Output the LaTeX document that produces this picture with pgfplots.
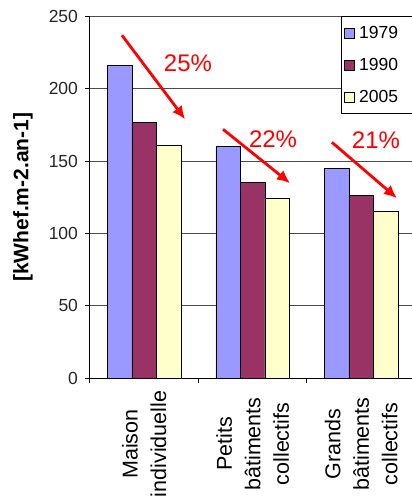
\documentclass[border=0pt]{standalone}
\usepackage{fontspec}
\setmainfont{Liberation Sans}
\usepackage{pgfplots}
\pgfplotsset{compat=1.18}
\usetikzlibrary{arrows.meta}
\definecolor{cA}{HTML}{9999FF}
\definecolor{cB}{HTML}{993366}
\definecolor{cC}{HTML}{FFFFCC}
\begin{document}
\begin{tikzpicture}
\useasboundingbox (0pt,0pt) rectangle (412pt,499pt);
\clip (0pt,0pt) rectangle (412pt,499pt);
\begin{axis}[
  at={(90pt,121pt)}, anchor=south west,
  scale only axis, width=325.5pt, height=361.5pt,
  xmin=-0.5, xmax=2.5, ymin=0, ymax=250,
  ybar=0pt, bar width=24.5pt,
  axis x line*=bottom, axis y line*=left,
  axis line style={black, line width=1pt, -},
  /pgf/number format/assume math mode=true,
  ytick={0,50,100,150,200,250},
  ymajorgrids, grid style={draw=black!70, line width=0.8pt},
  tick align=outside, major tick length=4.5pt,
  tick style={black, line width=1pt},
  yticklabel style={font=\fontsize{17.5}{20}\selectfont, text=black!85, xshift=-4pt},
  xtick={-0.5,0.5,1.5,2.5}, xticklabels={},
  extra x ticks={0,1,2},
  extra x tick labels={{Maison\\individuelle},{Petits\\bâtiments\\collectifs},{Grands\\bâtiments\\collectifs}},
  extra x tick style={major tick length=0pt, grid=none,
    xticklabel style={yshift=-66pt, rotate=90, anchor=center, align=center,
      font=\fontsize{21.5}{28.5}\selectfont}},
  ylabel={[kWhef.m-2.an-1]},
  every axis y label/.style={at={(axis description cs:-0.2058,0.5)}, rotate=90, anchor=center,
    font=\bfseries\fontsize{21}{24}\selectfont},
  legend style={at={(axis description cs:0.7711,1)}, anchor=north west,
    draw=black, line width=0.8pt, fill=white, inner xsep=3pt, inner ysep=0pt,
    row sep=0pt, column sep=1pt,
    nodes={inner xsep=3pt, inner ysep=0pt, minimum height=32pt, font=\fontsize{17.5}{20}\selectfont}},
  legend cell align=left,
  legend image code/.code={\draw[#1, draw=black, line width=0.8pt] (0pt,-5pt) rectangle (10pt,5pt);},
]
\addplot[fill=cA, draw=black, line width=0.8pt] coordinates {(0,216) (1,160) (2,145)};
\addplot[fill=cB, draw=black, line width=0.8pt] coordinates {(0,177) (1,135) (2,126)};
\addplot[fill=cC, draw=black, line width=0.8pt] coordinates {(0,161) (1,124) (2,115)};
\legend{\makebox[52pt][l]{1979},\makebox[52pt][l]{1990},\makebox[52pt][l]{2005}}
\draw[red, line width=2.8pt, -{Latex[length=13pt,width=12pt]}] (axis cs:-0.205,237) -- (axis cs:0.376,179);
\draw[red, line width=2.8pt, -{Latex[length=13pt,width=12pt]}] (axis cs:0.726,172) -- (axis cs:1.343,134.8);
\draw[red, line width=2.8pt, -{Latex[length=13pt,width=12pt]}] (axis cs:1.730,163) -- (axis cs:2.329,124.4);
\node[red, font=\fontsize{24}{28}\selectfont] at (axis cs:0.403,217.7) {25\%};
\node[red, font=\fontsize{24}{28}\selectfont] at (axis cs:1.187,165.2) {22\%};
\node[red, font=\fontsize{24}{28}\selectfont] at (axis cs:2.136,164.5) {21\%};
\end{axis}
\end{tikzpicture}
\end{document}
